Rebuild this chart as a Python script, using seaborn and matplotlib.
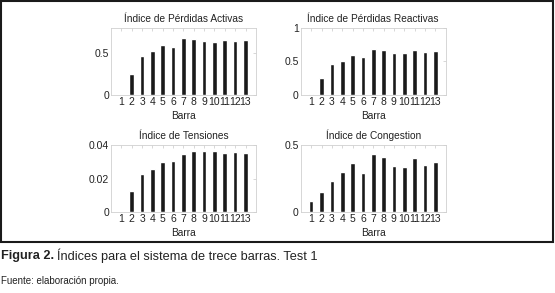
import matplotlib
matplotlib.use('Agg')
import matplotlib.pyplot as plt
import seaborn as sns
from matplotlib.patches import Rectangle

barras = list(range(1, 14))
perdidas_activas = [0.005, 0.25, 0.47, 0.52, 0.59, 0.57, 0.68, 0.67, 0.64, 0.63, 0.66, 0.64, 0.65]
perdidas_reactivas = [0.01, 0.25, 0.46, 0.51, 0.59, 0.57, 0.68, 0.67, 0.63, 0.62, 0.67, 0.64, 0.65]
tensiones = [0.0, 0.0123, 0.0228, 0.0257, 0.0301, 0.0305, 0.0349, 0.0362, 0.0362, 0.0362, 0.0350, 0.0358, 0.0350]
congestion = [0.084, 0.153, 0.233, 0.297, 0.364, 0.292, 0.433, 0.411, 0.347, 0.339, 0.401, 0.351, 0.376]

titulos = ['Índice de Pérdidas Activas', 'Índice de Pérdidas Reactivas',
           'Índice de Tensiones', 'Índice de Congestion']
series = [perdidas_activas, perdidas_reactivas, tensiones, congestion]
ylims = [(0, 0.8), (0, 1), (0, 0.04), (0, 0.5)]
yticks = [[0, 0.5], [0, 0.5, 1], [0, 0.02, 0.04], [0, 0.5]]
yticklabels = [['0', '0.5'], ['0', '0.5', '1'], ['0', '0.02', '0.04'], ['0', '0.5']]

sns.set_style('white')
plt.rcParams['font.family'] = ['Liberation Sans', 'DejaVu Sans']

fig = plt.figure(figsize=(5.55, 2.93), dpi=100)
posiciones = [(0.200, 0.676), (0.542, 0.676), (0.200, 0.276), (0.542, 0.276)]

for (x0, y0), tit, vals, yl, yt, ytl in zip(posiciones, titulos, series, ylims, yticks, yticklabels):
    ax = fig.add_axes([x0, y0, 0.261, 0.229])
    sns.barplot(x=barras, y=vals, native_scale=True, width=0.45, color='#1a1a1a',
                saturation=1, ax=ax, errorbar=None)
    ax.set_xlim(0, 14)
    ax.set_ylim(*yl)
    ax.set_xticks(barras)
    ax.set_xticklabels([str(b) for b in barras], fontsize=7.5)
    ax.set_yticks(yt)
    ax.set_yticklabels(ytl, fontsize=7.5)
    ax.set_title(tit, fontsize=7.3, pad=4, color='#222222')
    ax.set_xlabel('Barra', fontsize=7.3, labelpad=3, color='#222222')
    ax.set_ylabel('')
    for s in ax.spines.values():
        s.set_color('#d0d0d0')
        s.set_linewidth(0.6)
    ax.tick_params(direction='in', length=2, width=0.5, color='#c8c8c8',
                   top=True, right=True, pad=1.5, labelcolor='#222222')

border = Rectangle((0.002, 0.174), 0.994, 0.822, transform=fig.transFigure,
                   fill=False, edgecolor='#1a1a1a', linewidth=1.5)
fig.patches.append(border)

t1 = fig.text(0.002, 1 - 256 / 293, 'Figura 2.', fontsize=9.2, fontweight='bold',
              va='center', ha='left', color='#222222')
fig.canvas.draw()
bb = t1.get_window_extent()
x_rest = (bb.x1 + 3) / fig.bbox.width
fig.text(x_rest, 1 - 256 / 293, 'Índices para el sistema de trece barras. Test 1', fontsize=9.2,
         va='center', ha='left', color='#222222')
fig.text(0.002, 1 - 281 / 293, 'Fuente: elaboración propia.', fontsize=7,
         va='center', ha='left', color='#222222')

fig.savefig('out.png', dpi=100)
